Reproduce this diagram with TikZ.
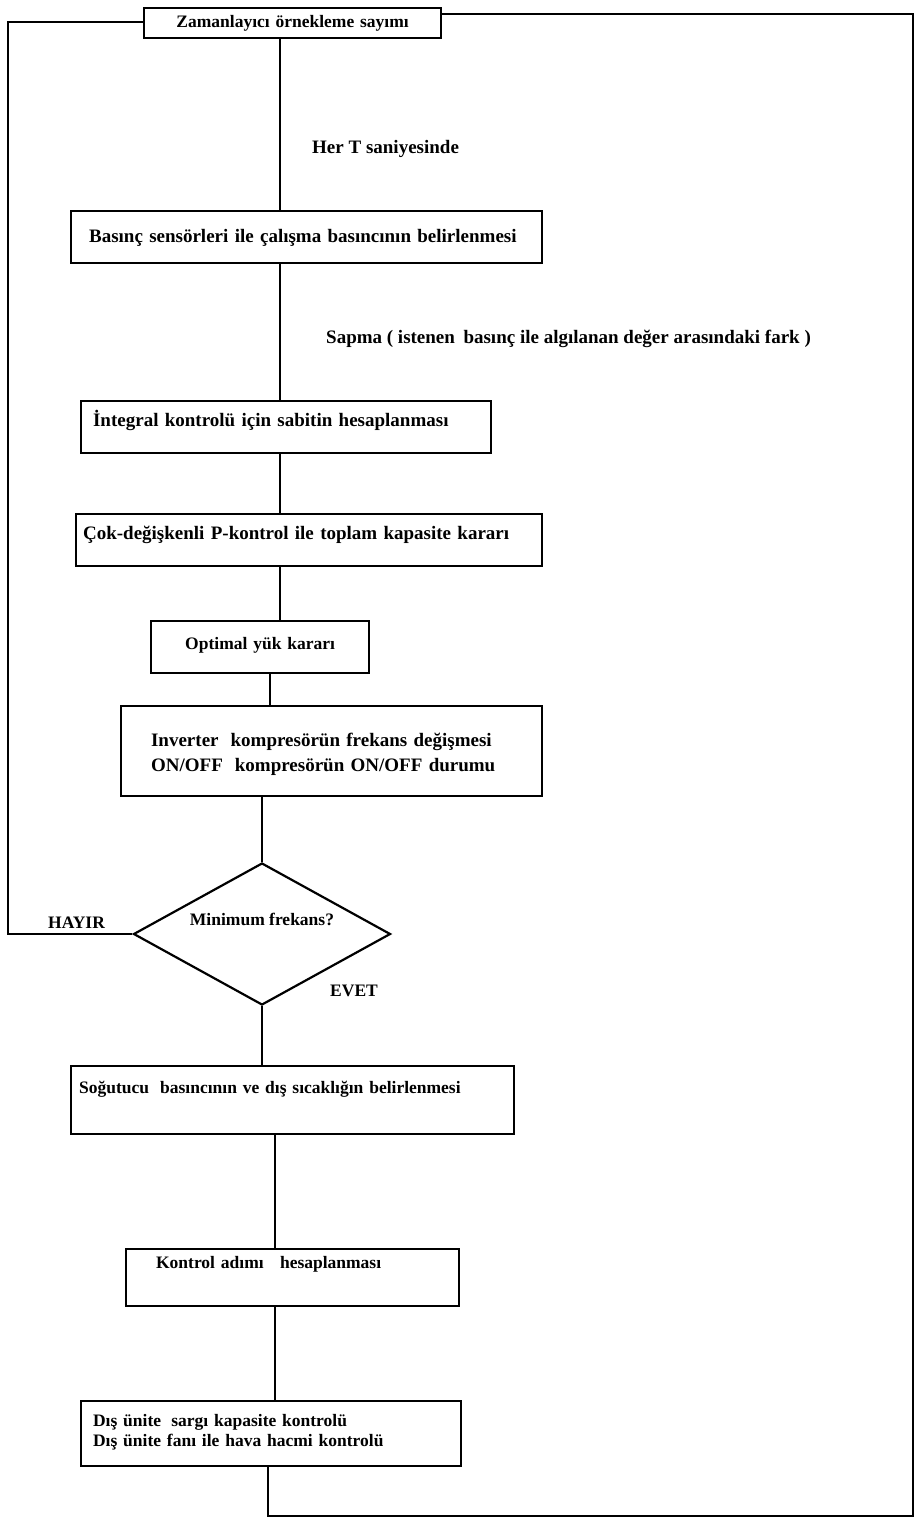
\documentclass[tikz,border=0pt]{standalone}
\usepackage{fontspec}
\setmainfont{Liberation Serif}
\usetikzlibrary{shapes.geometric}
\begin{document}
\begin{tikzpicture}[x=1pt,y=-1pt,
  fa/.style={font=\bfseries\fontsize{17.5}{22}\selectfont},
  fb/.style={font=\bfseries\fontsize{19}{25}\selectfont},
  box/.style={draw, line width=2.2pt, inner ysep=0pt, anchor=north west, fa},
  conn/.style={line width=2.2pt},
  lbl/.style={fa, inner sep=0pt, anchor=base west}]
\useasboundingbox (0,0) rectangle (916,1526);
% boxes
\node[box, inner xsep=5pt, text width=287pt, align=center, text height=19pt, text depth=11pt] (top) at (143,7) {Zamanlayıcı örnekleme sayımı};
\node[box, fb, inner xsep=18pt, text width=435pt, align=left, text height=31pt, text depth=21pt] (sens) at (70,210) {Basınç sensörleri ile çalışma basıncının belirlenmesi};
\node[box, fb, inner xsep=12pt, text width=386pt, align=left, text height=25pt, text depth=27pt] (integ) at (80,400) {İntegral kontrolü için sabitin hesaplanması};
\node[box, fb, inner xsep=7pt, text width=452pt, align=left, text height=25pt, text depth=27pt] (pkont) at (75,513) {Çok-değişkenli P-kontrol ile toplam kapasite kararı};
\node[box, inner xsep=5pt, text width=208pt, align=center, text height=28pt, text depth=24pt] (optim) at (150,620) {Optimal yük kararı};
\node[box, fb, inner xsep=30pt, text width=361pt, align=left, text height=40pt, text depth=50pt] (inv) at (120,705) {Inverter\hspace{0.3em} kompresörün frekans değişmesi\\ON/OFF\hspace{0.3em} kompresörün ON/OFF durumu};
\node[draw, diamond, aspect=1.81, line width=2.2pt, minimum width=257pt, minimum height=142pt, inner sep=0pt,
  text height=11pt, text depth=29pt, fa] (dec) at (262,934) {Minimum frekans?};
\node[box, inner xsep=8pt, text width=427pt, align=left, text height=27pt, text depth=41pt] (sogut) at (70,1065) {Soğutucu\hspace{0.3em} basıncının ve dış sıcaklığın belirlenmesi};
\node[box, inner xsep=30pt, text width=273pt, align=left, text height=19pt, text depth=38pt] (kont) at (125,1248) {Kontrol adımı\hspace{0.6em} hesaplanması};
\node[box, inner xsep=12pt, text width=356pt, align=left, text height=25pt, text depth=40pt,
  font=\bfseries\fontsize{17.5}{20}\selectfont] (dis) at (80,1400) {Dış ünite\hspace{0.25em} sargı kapasite kontrolü\\Dış ünite fanı ile hava hacmi kontrolü};
% labels
\node[lbl, fb] (herT) at (312,153) {Her T saniyesinde};
\node[lbl, fb] (sapma) at (326,343) {Sapma ( istenen\hspace{0.2em} basınç ile algılanan değer arasındaki fark )};
\node[lbl] (hayir) at (48,928) {HAYIR};
\node[lbl] (evet) at (330,996) {EVET};
% coordinates for connector x positions
\coordinate (c1) at (280,0);
\coordinate (c2) at (268,0);
\coordinate (c3) at (270,0);
\coordinate (c4) at (275,0);
\coordinate (lft) at (8,22);
\coordinate (rgt) at (913,14);
\coordinate (bot) at (913,1516);
% main flow
\draw[conn] (top.south -| c1) -- (sens.north -| c1);
\draw[conn] (sens.south -| c1) -- (integ.north -| c1);
\draw[conn] (integ.south -| c1) -- (pkont.north -| c1);
\draw[conn] (pkont.south -| c1) -- (optim.north -| c1);
\draw[conn] (optim.south -| c3) -- (inv.north -| c3);
\draw[conn] (inv.south -| dec.north) -- (dec.north);
\draw[conn] (dec.south) -- (sogut.north -| dec.south);
\draw[conn] (sogut.south -| c4) -- (kont.north -| c4);
\draw[conn] (kont.south -| c4) -- (dis.north -| c4);
% feedback loops
\draw[conn] (top.west |- lft) -- (lft) -- (lft |- dec.west) -- (dec.west);
\draw[conn] (dis.south -| c2) -- (c2 |- bot) -- (bot) -- (rgt) -- (top.east |- rgt);
\end{tikzpicture}
\end{document}
